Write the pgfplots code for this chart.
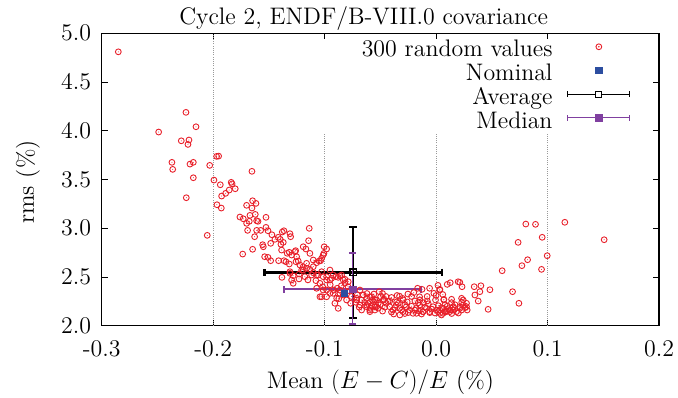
\documentclass[border=0pt]{standalone}
\usepackage{fontspec}
\setmainfont{lmroman12-regular}[Extension=.otf, ItalicFont=lmroman12-italic, BoldFont=lmroman12-bold]
\usepackage{pgfplots}
\usepackage{pgfplotstable}
\pgfplotsset{compat=1.18}
\definecolor{myred}{RGB}{232,32,42}
\definecolor{myblue}{RGB}{44,78,160}
\definecolor{mypurple}{RGB}{128,64,160}
\pgfdeclareplotmark{odot}{%
  \pgfpathcircle{\pgfpointorigin}{\pgfplotmarksize}\pgfusepathqstroke
  \pgfpathcircle{\pgfpointorigin}{0.5bp}\pgfusepathqfill}
\newcommand{\bigf}{\fontsize{24}{28}\selectfont}

\pgfplotstableread{
x y
-0.2851 4.810
-0.2489 3.987
-0.2244 4.189
-0.2154 4.041
-0.2286 3.897
-0.2217 3.905
-0.2226 3.860
-0.2370 3.676
-0.2363 3.604
-0.2208 3.658
-0.2178 3.676
-0.2178 3.518
-0.2031 3.645
-0.1969 3.737
-0.1951 3.740
-0.1993 3.494
-0.1936 3.446
-0.1888 3.358
-0.1924 3.330
-0.1856 3.392
-0.1838 3.471
-0.1830 3.455
-0.1802 3.405
-0.1652 3.584
-0.2241 3.313
-0.2053 2.927
-0.1966 3.241
-0.1927 3.207
-0.1735 2.735
-0.1700 3.235
-0.1646 3.282
-0.1616 3.255
-0.1652 3.207
-0.1622 3.142
-0.1670 3.132
-0.1760 3.115
-0.1730 3.097
-0.1676 3.071
-0.1700 3.050
-0.1610 3.077
-0.1598 3.071
-0.1526 3.112
-0.1691 2.978
-0.1610 2.978
-0.1574 2.978
-0.1526 3.009
-0.1508 2.974
-0.1628 2.913
-0.1473 2.933
-0.1446 2.886
-0.1416 2.907
-0.1556 2.831
-0.1550 2.810
-0.1484 2.845
-0.1646 2.784
-0.1538 2.708
-0.1508 2.701
-0.1484 2.667
-0.1413 2.667
-0.1380 2.961
-0.1365 2.974
-0.1311 2.944
-0.1305 2.913
-0.1398 2.886
-0.1371 2.855
-0.1392 2.835
-0.1386 2.776
-0.1317 2.753
-0.1260 2.770
-0.1192 2.810
-0.1168 2.787
-0.1138 2.999
-0.1144 2.872
-0.1365 2.667
-0.1336 2.743
-0.1296 2.725
-0.1251 2.708
-0.1347 2.656
-0.1317 2.633
-0.1237 2.664
-0.1222 2.623
-0.1192 2.605
-0.1162 2.640
-0.0982 2.787
-0.1006 2.742
-0.1036 2.667
-0.0952 2.571
-0.1102 2.674
-0.1072 2.646
-0.1383 2.496
-0.1311 2.537
-0.1282 2.513
-0.1228 2.530
-0.1192 2.571
-0.1162 2.589
-0.1132 2.578
-0.1102 2.544
-0.1057 2.520
-0.1013 2.503
-0.0982 2.469
-0.0937 2.486
-0.0899 2.503
-0.0863 2.510
-0.1078 2.462
-0.1042 2.435
-0.1018 2.400
-0.0982 2.366
-0.1027 2.297
-0.0952 2.332
-0.0917 2.366
-0.0887 2.384
-0.0863 2.332
-0.0874 2.277
-0.0779 2.359
-0.0767 2.230
-0.0713 2.281
-0.0707 2.315
-0.0833 2.469
-0.0818 2.435
-0.0683 2.366
-0.0654 2.315
-0.0668 2.263
-0.0623 2.281
-0.0578 2.297
-0.0623 2.212
-0.0587 2.178
-0.0549 2.161
-0.0534 2.195
-0.0558 2.325
-0.0534 2.264
-0.0498 2.297
-0.0468 2.271
-0.1004 2.810
-0.1013 2.725
-0.1027 2.691
-0.1049 2.664
-0.1132 2.742
-0.1266 2.759
-0.1257 2.656
-0.1206 2.571
-0.1102 2.605
-0.1177 2.503
-0.1117 2.520
-0.1072 2.520
-0.1027 2.554
-0.0982 2.503
-0.0952 2.469
-0.0923 2.520
-0.0878 2.496
-0.0848 2.520
-0.0818 2.476
-0.0788 2.451
-0.1072 2.384
-0.1013 2.366
-0.1042 2.297
-0.0982 2.297
-0.0923 2.332
-0.0892 2.281
-0.0863 2.366
-0.0833 2.315
-0.0803 2.264
-0.0908 2.230
-0.0878 2.178
-0.0713 2.264
-0.0683 2.212
-0.0668 2.161
-0.0623 2.195
-0.0594 2.144
-0.0549 2.195
-0.0519 2.230
-0.0654 2.315
-0.0594 2.297
-0.0549 2.264
-0.1311 2.554
-0.1296 2.469
-0.1282 2.435
-0.0447 2.230
-0.0417 2.195
-0.0387 2.161
-0.0357 2.212
-0.0327 2.178
-0.0297 2.144
-0.0267 2.195
-0.0237 2.161
-0.0207 2.127
-0.0177 2.178
-0.0147 2.212
-0.0117 2.144
-0.0087 2.178
-0.0057 2.144
-0.0027 2.195
0.0003 2.161
0.0033 2.127
0.0063 2.178
0.0093 2.144
0.0123 2.161
0.0153 2.195
0.0183 2.144
0.0213 2.178
0.0243 2.212
-0.0328 2.303
-0.0253 2.325
-0.0148 2.297
-0.0126 2.373
-0.0058 2.384
0.0017 2.414
0.0127 2.441
0.0233 2.400
-0.0166 2.384
-0.0510 2.349
-0.0020 2.332
0.0034 2.373
0.0100 2.424
0.0198 2.451
-0.0005 2.264
0.0070 2.271
0.0139 2.271
0.0139 2.236
-0.0570 2.264
-0.0594 2.161
-0.0474 2.264
-0.0415 2.254
-0.0354 2.244
-0.0295 2.264
-0.0259 2.244
-0.0190 2.254
-0.0145 2.264
-0.0115 2.236
-0.0079 2.254
-0.0325 2.110
-0.0176 2.127
-0.0117 2.144
-0.0057 2.134
0.0018 2.144
0.0093 2.151
0.0168 2.178
0.0342 2.400
0.0402 2.410
0.0393 2.349
0.0348 2.315
0.0483 2.369
0.0686 2.349
0.0743 2.230
0.0467 2.168
0.0378 2.253
0.0273 2.230
0.0273 2.195
0.0279 2.161
0.0229 2.281
0.0243 2.264
0.0213 2.195
0.0229 2.161
0.0153 2.161
0.0123 2.144
0.0078 2.144
0.0063 2.127
0.0048 2.110
0.0033 2.161
0.0069 2.264
0.0033 2.366
0.0805 3.043
0.0892 3.040
0.1155 3.061
0.1508 2.882
0.0952 2.907
0.0736 2.855
0.0997 2.718
0.0821 2.677
0.0770 2.616
0.0946 2.578
0.0593 2.564
0.0213 2.445
-0.0640 2.240
-0.0610 2.228
-0.0580 2.205
-0.0560 2.245
-0.0520 2.180
-0.0500 2.215
-0.0480 2.150
-0.0460 2.190
-0.0430 2.250
-0.0400 2.140
-0.0370 2.185
-0.0340 2.230
-0.0310 2.160
-0.0280 2.215
-0.0250 2.135
-0.0220 2.200
-0.0190 2.160
-0.0160 2.235
-0.0130 2.120
-0.0100 2.190
-0.0070 2.225
-0.0040 2.170
-0.0010 2.130
0.0020 2.205
0.0050 2.185
0.0080 2.215
0.0110 2.175
0.0140 2.125
0.0170 2.215
0.0200 2.130
0.0230 2.240
-0.0450 2.300
-0.0400 2.290
-0.0350 2.310
-0.0300 2.280
-0.0220 2.300
-0.0200 2.340
-0.0080 2.300
0.0000 2.310
0.0060 2.320
-0.0620 2.330
-0.0480 2.330
-0.0380 2.120
-0.0280 2.125
-0.0150 2.150
0.0100 2.200
0.0260 2.185
-0.0690 2.190
-0.0720 2.240
-0.0760 2.300
-0.0950 2.420
-0.0850 2.410
-0.0790 2.400
-0.1150 2.470
-0.1230 2.480
}\randvals

\begin{document}
\begin{tikzpicture}
\useasboundingbox (-101.7bp,-72.3bp) rectangle (576.3bp,325.7bp);
\begin{axis}[
  scale only axis, width=557.3bp, height=292.4bp,
  xmin=-0.3, xmax=0.2, ymin=2, ymax=5,
  xtick={-0.3,-0.2,-0.1,0,0.1,0.2},
  xticklabels={-0.3,-0.2,-0.1,0.0,0.1,0.2},
  ytick={2,2.5,3,3.5,4,4.5,5},
  yticklabels={2.0,2.5,3.0,3.5,4.0,4.5,5.0},
  tick align=inside, major tick length=6bp,
  every tick/.style={black, line width=0.8bp},
  axis line style={line width=1.4bp},
  xticklabel style={font=\bigf, anchor=base, yshift=-30.8bp, inner sep=0pt},
  yticklabel style={font=\bigf, anchor=east, xshift=-10.5bp, inner sep=0pt},
  xlabel={Mean $(E-C)/E$ (\%)},
  xlabel style={font=\bigf, at={(axis description cs:0.5,0)}, anchor=base, yshift=-62.5bp, inner sep=0pt},
  ylabel={rms (\%)},
  ylabel style={font=\bigf, at={(axis description cs:-0.1322,0.4914)}, anchor=center, inner sep=0pt},
  title={Cycle 2, ENDF/B-VIII.0 covariance},
  every axis title/.style={font=\bigf, at={(axis description cs:0.47,1)}, anchor=base, yshift=8.3bp, inner sep=0pt},
  legend plot pos=right,
  legend cell align=right,
  legend style={font=\bigf, draw=none, fill=none, inner sep=0pt,
    at={(axis description cs:0.9492,0.978)}, anchor=north east,
    row sep=0pt, column sep=14.7bp,
    nodes={inner sep=0pt, text height=17bp, text depth=6.7bp}},
]
% grid lines (interrupted by the key, as in the original)
\draw[gray!80, line width=0.6bp, dash pattern=on 0.7bp off 1.5bp] (axis cs:-0.2,2) -- (axis cs:-0.2,5);
\draw[gray!80, line width=0.6bp, dash pattern=on 0.7bp off 1.5bp] (axis cs:-0.1,2) -- (axis cs:-0.1,3.976);
\draw[gray!80, line width=0.6bp, dash pattern=on 0.7bp off 1.5bp] (axis cs:0,2) -- (axis cs:0,3.976);
\draw[gray!80, line width=0.6bp, dash pattern=on 0.7bp off 1.5bp] (axis cs:0.1,2) -- (axis cs:0.1,3.976);

\addplot[only marks, mark=odot, mark size=2.9bp,
  mark options={draw=myred, fill=myred, line width=0.9bp},
  legend image code/.code={
    \path[draw=none, fill=none] (0bp,0bp) rectangle (62bp,10bp);
    \draw[myred, line width=0.9bp] (31bp,5bp) circle[radius=2.9bp];
    \fill[myred] (31bp,5bp) circle[radius=0.5bp];}]
  table[x=x, y=y] {\randvals};
\addlegendentry{300 random values}

\addplot[only marks, mark=square*, mark size=3.2bp,
  mark options={draw=myblue, fill=myblue},
  legend image code/.code={
    \path[draw=none, fill=none] (0bp,0bp) rectangle (62bp,10bp);
    \fill[myblue] (27.8bp,1.8bp) rectangle (34.2bp,8.2bp);}]
  coordinates {(-0.0824,2.332)};
\addlegendentry{Nominal}

\addplot[only marks, mark=square, mark size=3.3bp,
  mark options={draw=black, fill=white, line width=1.3bp},
  legend image code/.code={
    \path[draw=none, fill=none] (0bp,0bp) rectangle (62bp,10bp);
    \draw[black, line width=1.3bp] (0bp,5bp) -- (62bp,5bp);
    \draw[black, line width=1.3bp] (0bp,2.2bp) -- (0bp,7.8bp);
    \draw[black, line width=1.3bp] (62bp,2.2bp) -- (62bp,7.8bp);
    \draw[black, line width=1.2bp, fill=white] (28bp,2bp) rectangle (34bp,8bp);},
  error bars/.cd, x dir=both, x explicit, y dir=both, y explicit,
  error bar style={line width=2.6bp, black},
  error mark=-,
  error mark options={rotate=90, black, line width=2.2bp, mark size=3.7bp}]
  coordinates {(-0.0744,2.548) +- (0.0795,0.467)};
\addlegendentry{Average}

\addplot[only marks, mark=square*, mark size=3.3bp,
  mark options={draw=mypurple, fill=mypurple},
  legend image code/.code={
    \path[draw=none, fill=none] (0bp,0bp) rectangle (62bp,10bp);
    \draw[mypurple, line width=1bp] (0bp,5bp) -- (62bp,5bp);
    \draw[mypurple, line width=1bp] (0bp,2.2bp) -- (0bp,7.8bp);
    \draw[mypurple, line width=1bp] (62bp,2.2bp) -- (62bp,7.8bp);
    \fill[mypurple] (27.7bp,1.7bp) rectangle (34.3bp,8.3bp);},
  error bars/.cd, x dir=both, x explicit, y dir=both, y explicit,
  error bar style={line width=1.8bp, mypurple},
  error mark=-,
  error mark options={rotate=90, mypurple, line width=1.8bp, mark size=3.7bp}]
  coordinates {(-0.0749,2.373) += (0.0615,0.370) -= (0.0619,0.359)};
\addlegendentry{Median}
\end{axis}
\end{tikzpicture}
\end{document}
